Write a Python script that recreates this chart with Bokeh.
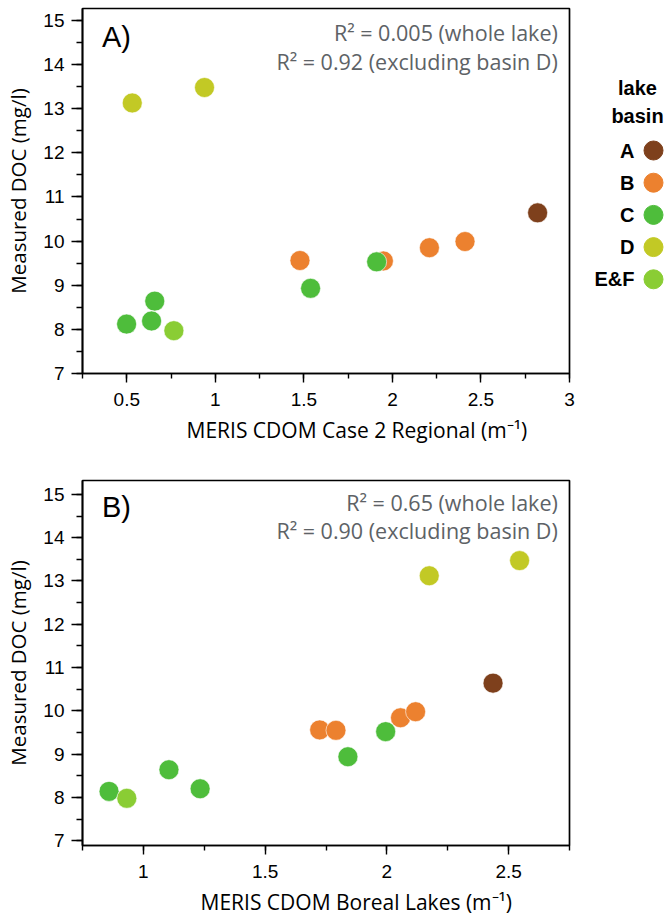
from bokeh.plotting import figure
from bokeh.models import Range1d, SingleIntervalTicker, Label, ColumnDataSource, Title
from bokeh.layouts import column, row
from bokeh.embed import file_html
from bokeh.resources import INLINE
from bokeh.core.properties import value

# ---- data -------------------------------------------------------------
basins = ["A", "B", "C", "D", "E&F"]
basin_colors = ["#7e401c", "#ec812f", "#4ebd3b", "#c2c925", "#8acd34"]

site_basin = ["A", "B", "B", "B", "B", "C", "C", "C", "C", "C", "D", "D", "E&F"]

case2_x = [2.82, 1.478, 1.949, 2.209, 2.41, 0.499, 0.658, 0.640, 1.538, 1.911, 0.531, 0.939, 0.766]
case2_y = [10.64, 9.56, 9.55, 9.85, 9.99, 8.12, 8.64, 8.19, 8.93, 9.53, 13.13, 13.48, 7.97]

boreal_x = [2.436, 1.724, 1.791, 2.056, 2.118, 0.859, 1.105, 1.233, 1.84, 1.995, 2.174, 2.545, 0.932]
boreal_y = [10.64, 9.56, 9.55, 9.84, 9.98, 8.14, 8.64, 8.20, 8.94, 9.52, 13.12, 13.47, 7.98]

r2_case2 = ["R\u00b2 = 0.005 (whole lake)", "R\u00b2 = 0.92 (excluding basin D)"]
r2_boreal = ["R\u00b2 = 0.65 (whole lake)", "R\u00b2 = 0.90 (excluding basin D)"]

xtitle_case2 = "MERIS CDOM Case 2 Regional (m\u207b\u00b9)"
xtitle_boreal = "MERIS CDOM Boreal Lakes (m\u207b\u00b9)"
ytitle = "Measured DOC (mg/l)"

TICK_FONT = "Liberation Sans"
TITLE_FONT = "Open Sans"
GRAY = "#5d6266"


def panel(xs, ys, xr, yr, xlabel, xlabel_offset, letter, letter_pos, r2, r2_pos,
          height, mb_top, mb_bottom):
    p = figure(width=578, height=height, x_range=Range1d(*xr), y_range=Range1d(*yr),
               output_backend="svg", toolbar_location=None,
               min_border_left=82, min_border_right=9,
               min_border_top=mb_top, min_border_bottom=mb_bottom)
    p.grid.visible = False
    p.outline_line_color = "black"
    p.outline_line_width = 1.7
    p.background_fill_color = "white"
    p.border_fill_color = "white"

    p.xaxis.ticker = SingleIntervalTicker(interval=0.5, num_minor_ticks=2)
    p.yaxis.ticker = SingleIntervalTicker(interval=1, num_minor_ticks=2)
    for ax in (p.xaxis[0], p.yaxis[0]):
        ax.axis_line_width = 1.7
        ax.major_tick_line_width = 1.4
        ax.minor_tick_line_width = 1.4
        ax.major_tick_in = 0
        ax.minor_tick_in = 0
        ax.major_label_text_font = TICK_FONT
        ax.major_label_text_font_size = "19px"
        ax.major_label_text_color = "black"
        ax.axis_label_text_font = TITLE_FONT
        ax.axis_label_text_font_style = "normal"
        ax.axis_label_text_font_size = "20.5px"
        ax.axis_label_text_color = "black"
    p.xaxis.major_tick_out = 9
    p.xaxis.minor_tick_out = 5
    p.yaxis.major_tick_out = 11
    p.yaxis.minor_tick_out = 6
    p.xaxis.major_label_standoff = 10
    p.yaxis.major_label_standoff = 7
    p.yaxis.axis_label_standoff = 8
    p.yaxis.axis_label = ytitle

    # x-axis title, set off to the right of centre as in the original
    p.add_layout(Title(text=xlabel, align="left", offset=xlabel_offset,
                       text_font=TITLE_FONT, text_font_size="21px",
                       text_font_style="normal", text_color="black"), "below")

    for b, c in zip(basins, basin_colors):
        idx = [i for i, s in enumerate(site_basin) if s == b]
        src = ColumnDataSource(dict(x=[xs[i] for i in idx], y=[ys[i] for i in idx]))
        p.scatter("x", "y", source=src, size=20, fill_color=c, line_color="white",
                  line_width=0.6)

    p.add_layout(Label(x=letter_pos[0], y=letter_pos[1], text=letter,
                       text_font=TICK_FONT, text_font_size="29px",
                       text_baseline="middle", text_align="left", text_color="black"))
    for txt, yy in zip(r2, r2_pos[1]):
        p.add_layout(Label(x=r2_pos[0], y=yy, text=txt, text_font=TITLE_FONT,
                           text_font_size="21.5px", text_color=GRAY,
                           text_align="right", text_baseline="middle"))
    return p


p1 = panel(case2_x, case2_y, (0.25, 3.0), (7.0, 15.27),
           xtitle_case2, 104, "A)", (0.36, 14.62),
           r2_case2, (2.934, [14.72, 14.07]), 450, 8, 77)

p2 = panel(boreal_x, boreal_y, (0.75, 2.75), (6.89, 15.32),
           xtitle_boreal, 118, "B)", (0.83, 14.7),
           r2_boreal, (2.702, [14.81, 14.17]), 470, 30, 74)

# ---- legend panel (outside the top plot; its frame lines up with p1's) ----
leg = figure(width=87, height=450, x_range=Range1d(578, 665), y_range=Range1d(373, 8),
             output_backend="svg", toolbar_location=None,
             x_axis_type=None, y_axis_type=None,
             min_border_left=0, min_border_right=0, min_border_top=8, min_border_bottom=77)
leg.grid.visible = False
leg.outline_line_color = None
leg_y = [150 + 32.2 * i for i in range(len(basins))]
leg.scatter(x=[653] * len(basins), y=leg_y, size=19, color=basin_colors)
leg.text(x=[634] * len(basins), y=leg_y, text=basins, text_align="right",
         text_baseline="middle", text_font=value(TICK_FONT), text_font_style="bold",
         text_font_size="20px", text_color="black")
leg.text(x=[637, 637], y=[87, 115], text=["lake", "basin"], text_align="center",
         text_baseline="middle", text_font=value(TICK_FONT), text_font_style="bold",
         text_font_size="20px", text_color="black")

layout = column(row(p1, leg), p2)
open("out.html", "w").write(file_html(layout, INLINE))
